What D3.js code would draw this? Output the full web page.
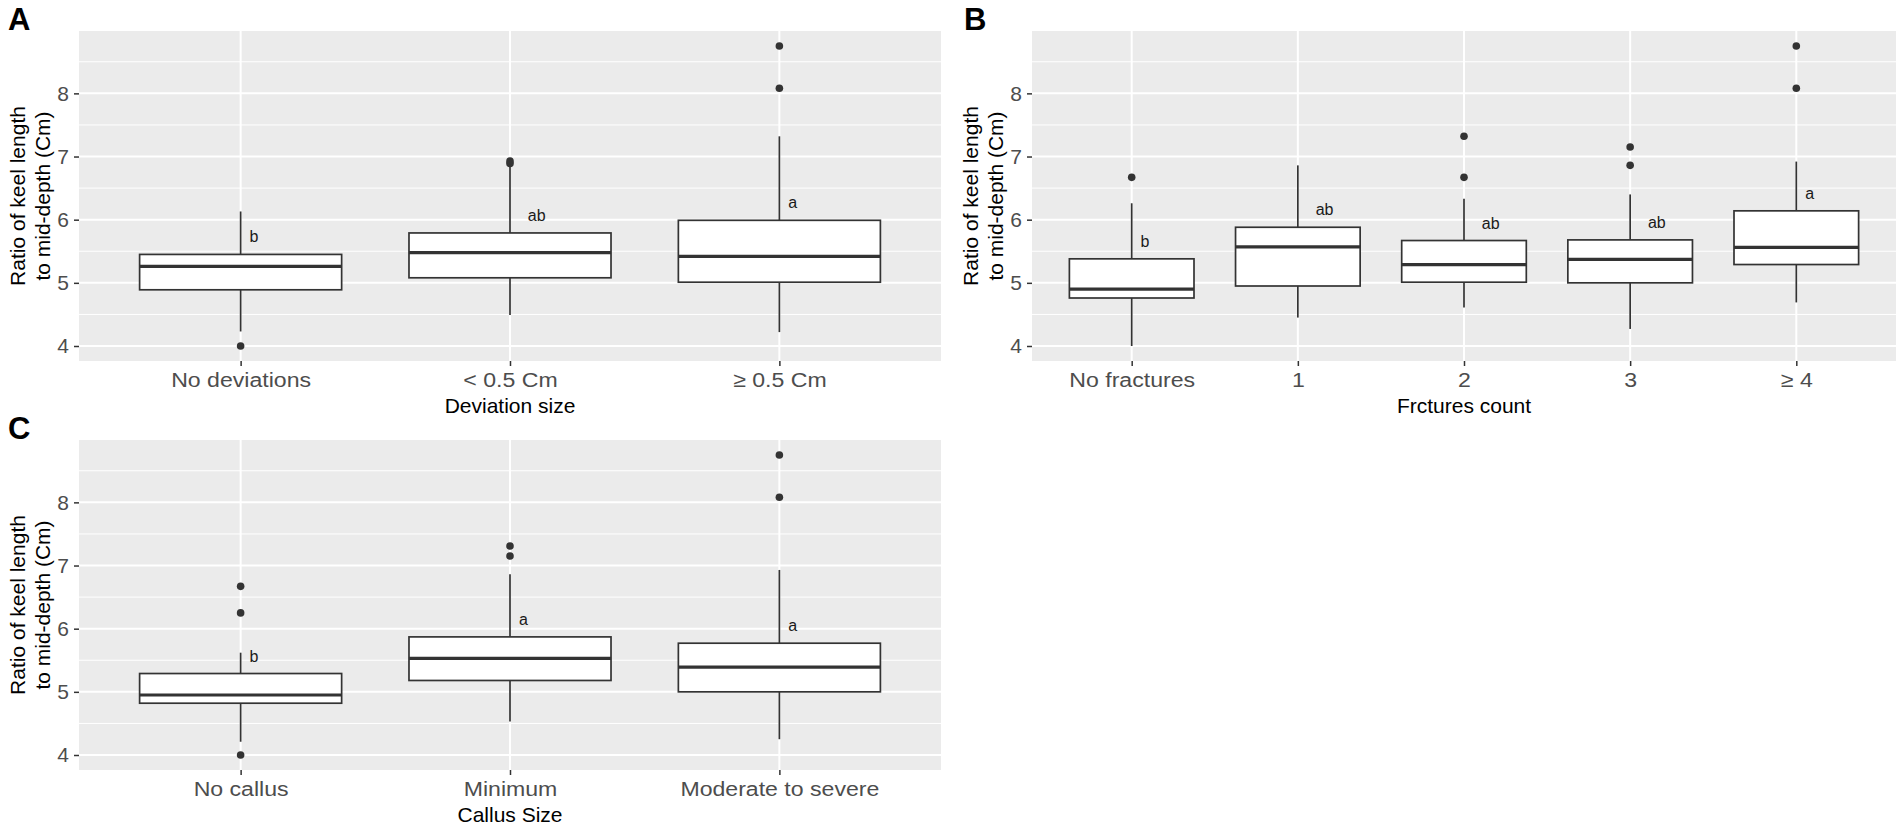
<!DOCTYPE html>
<html>
<head>
<meta charset="utf-8">
<script src="https://cdn.jsdelivr.net/npm/d3@7"></script>
<style>
  body { margin: 0; background: #fff; }
  svg { display: block; font-family: "Liberation Sans", Arial, sans-serif; }
</style>
</head>
<body>
<svg id="chart" width="1903" height="838"></svg>
<script>
// Panel A - deviation size
const catsA = ["No deviations", "< 0.5 Cm", "\u2265 0.5 Cm"];
const lowA  = [4.23, 4.49, 4.22];
const q1A   = [4.89, 5.08, 5.01];
const medA  = [5.26, 5.48, 5.42];
const q3A   = [5.45, 5.79, 5.99];
const highA = [6.13, 6.84, 7.32];
const outA  = [[4.0], [6.89, 6.93], [8.08, 8.75]];
const letA  = ["b", "ab", "a"];

// Panel B - fractures count
const catsB = ["No fractures", "1", "2", "3", "\u2265 4"];
const lowB  = [4.0, 4.45, 4.61, 4.27, 4.69];
const q1B   = [4.76, 4.95, 5.01, 5.00, 5.29];
const medB  = [4.90, 5.57, 5.29, 5.37, 5.56];
const q3B   = [5.38, 5.88, 5.67, 5.68, 6.14];
const highB = [6.26, 6.86, 6.33, 6.40, 6.92];
const outB  = [[6.67], [], [6.67, 7.32], [6.86, 7.15], [8.08, 8.75]];
const letB  = ["b", "ab", "ab", "ab", "a"];

// Panel C - callus size
const catsC = ["No callus", "Minimum", "Moderate to severe"];
const lowC  = [4.21, 4.53, 4.25];
const q1C   = [4.82, 5.18, 5.00];
const medC  = [4.95, 5.53, 5.39];
const q3C   = [5.29, 5.87, 5.77];
const highC = [5.62, 6.86, 6.93];
const outC  = [[4.0, 6.25, 6.67], [7.15, 7.31], [8.08, 8.75]];
const letC  = ["b", "a", "a"];

const yTicks = [4, 5, 6, 7, 8];
const yMinor = [4.5, 5.5, 6.5, 7.5, 8.5];
const yDomain = [3.7625, 8.9875];
const yTitle = ["Ratio of keel length", "to mid-depth (Cm)"];

const svg = d3.select("#chart");

function drawPanel(p) {
    const x = d3.scalePoint()
        .domain(p.cats)
        .range([p.left, p.right])
        .padding(0.6);
    const y = d3.scaleLinear()
        .domain(yDomain)
        .range([p.bottom, p.top]);
    const boxW = x.step() * 0.75;

    const g = svg.append("g");

    // panel background
    g.append("rect")
        .attr("x", p.left)
        .attr("y", p.top)
        .attr("width", p.right - p.left)
        .attr("height", p.bottom - p.top)
        .attr("fill", "#ebebeb");

    // grid lines
    g.selectAll(".minor")
        .data(yMinor)
        .join("line")
        .attr("x1", p.left).attr("x2", p.right)
        .attr("y1", d => y(d)).attr("y2", d => y(d))
        .attr("stroke", "#fff").attr("stroke-width", 1);
    g.selectAll(".major")
        .data(yTicks)
        .join("line")
        .attr("x1", p.left).attr("x2", p.right)
        .attr("y1", d => y(d)).attr("y2", d => y(d))
        .attr("stroke", "#fff").attr("stroke-width", 2);
    g.selectAll(".vmajor")
        .data(p.cats)
        .join("line")
        .attr("x1", d => x(d)).attr("x2", d => x(d))
        .attr("y1", p.top).attr("y2", p.bottom)
        .attr("stroke", "#fff").attr("stroke-width", 2);

    // axes
    const yAxis = g.append("g")
        .attr("transform", `translate(${p.left},0)`)
        .call(d3.axisLeft(y).tickValues(yTicks).tickFormat(d3.format("d"))
            .tickSize(5).tickPadding(5));
    yAxis.select(".domain").remove();
    yAxis.selectAll("line").attr("stroke", "#333").attr("stroke-width", 1.5);
    yAxis.selectAll("text")
        .attr("fill", "#4d4d4d")
        .style("font-size", "21px");

    const xAxis = g.append("g")
        .attr("transform", `translate(0,${p.bottom})`)
        .call(d3.axisBottom(x).tickSize(5).tickPadding(6));
    xAxis.select(".domain").remove();
    xAxis.selectAll("line").attr("stroke", "#333").attr("stroke-width", 1.5);
    xAxis.selectAll("text")
        .attr("fill", "#4d4d4d")
        .attr("transform", "scale(1.1,1)")
        .style("font-size", "21px");

    // axis titles
    g.append("text")
        .attr("x", (p.left + p.right) / 2)
        .attr("y", p.bottom + 52)
        .attr("text-anchor", "middle")
        .style("font-size", "21px")
        .attr("fill", "#000")
        .text(p.xTitle);

    const yt = g.append("text")
        .attr("transform", `translate(${p.left - 62},${(p.top + p.bottom) / 2}) rotate(-90)`)
        .attr("text-anchor", "middle")
        .style("font-size", "21px")
        .attr("fill", "#000");
    yTitle.forEach((line, i) => {
        yt.append("tspan")
            .attr("x", 0)
            .attr("y", i * 25)
            .attr("dominant-baseline", "central")
            .text(line);
    });

    // panel tag
    svg.append("text")
        .attr("x", p.tagX)
        .attr("y", p.top - 1)
        .style("font-size", "31px")
        .style("font-weight", "bold")
        .text(p.tag);

    const rows = p.cats.map((c, i) => ({
        cat: c, low: p.low[i], q1: p.q1[i], med: p.med[i],
        q3: p.q3[i], high: p.high[i], out: p.out[i], letter: p.letters[i]
    }));

    const box = g.selectAll(".box")
        .data(rows)
        .join("g");

    box.append("line")
        .attr("x1", d => x(d.cat)).attr("x2", d => x(d.cat))
        .attr("y1", d => y(d.q3)).attr("y2", d => y(d.high))
        .attr("stroke", "#333").attr("stroke-width", 1.7);
    box.append("line")
        .attr("x1", d => x(d.cat)).attr("x2", d => x(d.cat))
        .attr("y1", d => y(d.q1)).attr("y2", d => y(d.low))
        .attr("stroke", "#333").attr("stroke-width", 1.7);
    box.append("rect")
        .attr("x", d => x(d.cat) - boxW / 2)
        .attr("width", boxW)
        .attr("y", d => y(d.q3))
        .attr("height", d => y(d.q1) - y(d.q3))
        .attr("fill", "#fff")
        .attr("stroke", "#333").attr("stroke-width", 1.7);
    box.append("line")
        .attr("x1", d => x(d.cat) - boxW / 2).attr("x2", d => x(d.cat) + boxW / 2)
        .attr("y1", d => y(d.med)).attr("y2", d => y(d.med))
        .attr("stroke", "#333").attr("stroke-width", 3.2);

    box.selectAll("circle")
        .data(d => d.out.map(v => ({cat: d.cat, v})))
        .join("circle")
        .attr("cx", d => x(d.cat))
        .attr("cy", d => y(d.v))
        .attr("r", 3.8)
        .attr("fill", "#333");

    // significance letters, shifted right by their own width (hjust = -1)
    box.append("text")
        .attr("y", d => y(d.q3) - 12)
        .style("font-size", "16px")
        .attr("fill", "#1a1a1a")
        .text(d => d.letter)
        .attr("x", function(d) { return x(d.cat) + this.getComputedTextLength(); });
}

drawPanel({
    tag: "A", tagX: 8, cats: catsA, low: lowA, q1: q1A, med: medA, q3: q3A,
    high: highA, out: outA, letters: letA, xTitle: "Deviation size",
    left: 79, right: 941, top: 31, bottom: 361
});
drawPanel({
    tag: "B", tagX: 964, cats: catsB, low: lowB, q1: q1B, med: medB, q3: q3B,
    high: highB, out: outB, letters: letB, xTitle: "Frctures count",
    left: 1032, right: 1896, top: 31, bottom: 361
});
drawPanel({
    tag: "C", tagX: 8, cats: catsC, low: lowC, q1: q1C, med: medC, q3: q3C,
    high: highC, out: outC, letters: letC, xTitle: "Callus Size",
    left: 79, right: 941, top: 440, bottom: 770
});
</script>
</body>
</html>
